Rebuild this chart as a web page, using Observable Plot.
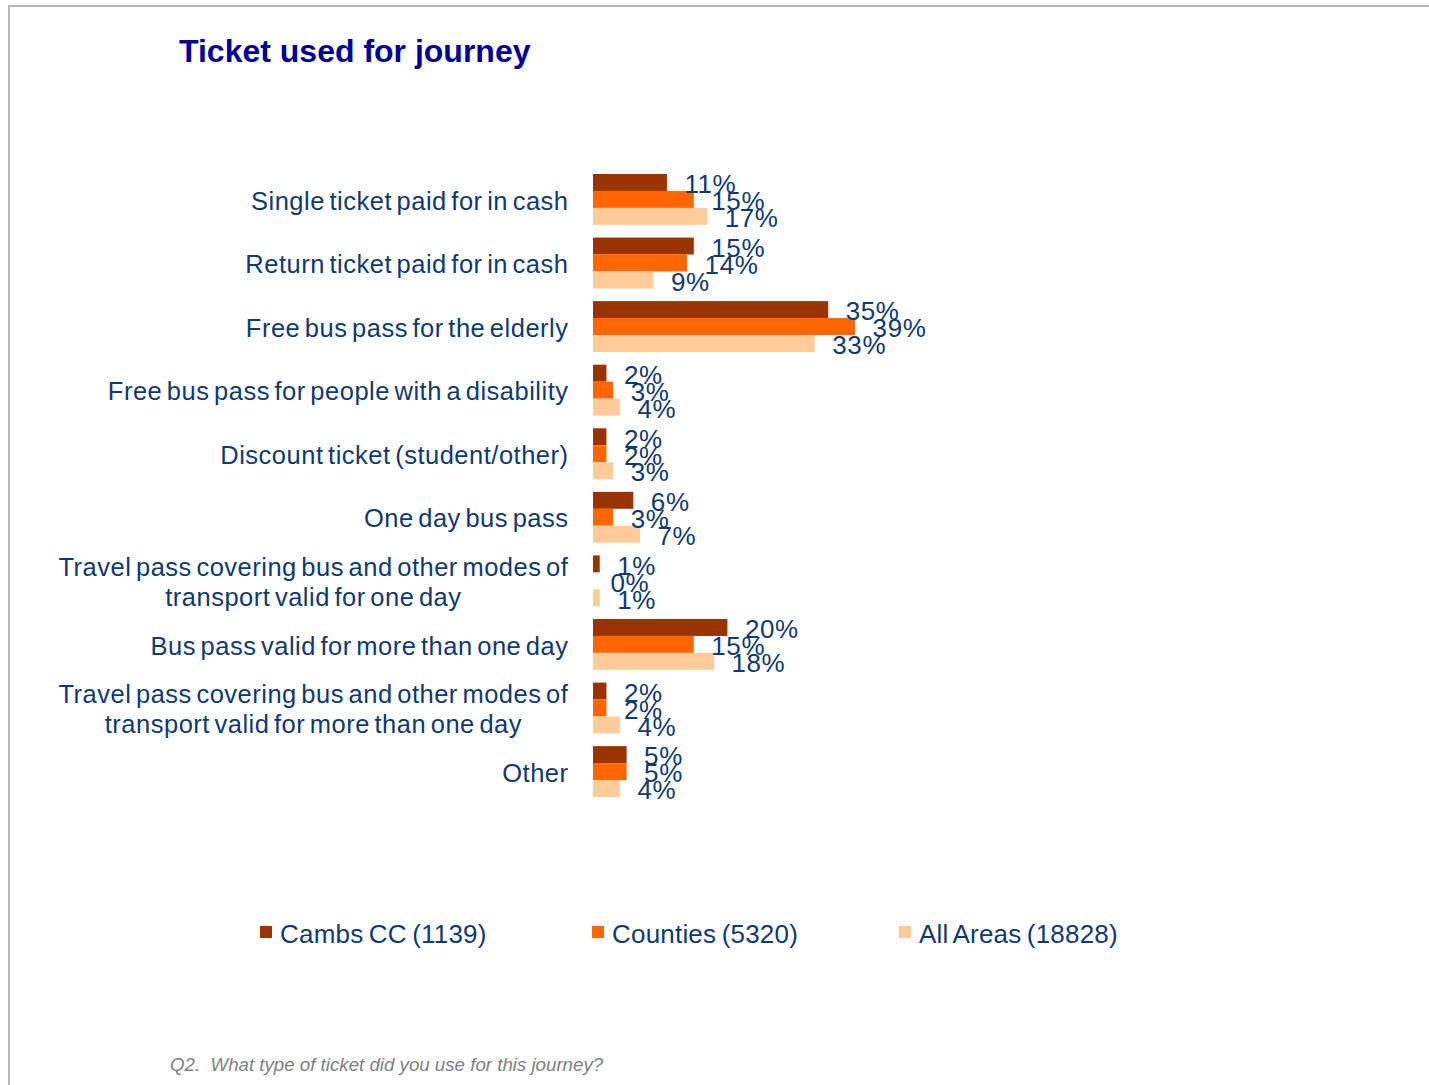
<!DOCTYPE html>
<html>
<head>
<meta charset="utf-8">
<script src="https://cdn.jsdelivr.net/npm/d3@7"></script>
<script src="https://cdn.jsdelivr.net/npm/@observablehq/plot@0.6"></script>
<style>
  html, body { margin: 0; padding: 0; background: #fff; }
  body { width: 1429px; height: 1085px; position: relative; overflow: hidden;
         font-family: "Liberation Sans", Arial, sans-serif; }
  #frame { position: absolute; left: 8px; top: 5px; width: 1440px; height: 1100px;
           border-left: 2px solid #b7b7b7; border-top: 2px solid #b7b7b7; }
  #title { position: absolute; left: 179px; top: 35px; font-size: 32px; font-weight: bold;
           color: #000099; line-height: 32px; white-space: nowrap; }
  #chart { position: absolute; left: 0; top: 141px; }
  #chart svg g[aria-label="fy-axis tick label"] text { letter-spacing: 0.5px; word-spacing: -3px; }
  #chart svg g[aria-label="text"] text { letter-spacing: 0.6px; }
  .leg { position: absolute; top: 919px; font-size: 26px; color: #103a6e; white-space: nowrap;
         line-height: 30px; word-spacing: -2px; letter-spacing: 0.2px; }
  .sw { position: absolute; top: 926px; width: 12px; height: 12px; }
  #note { position: absolute; left: 170px; top: 1054px; font-size: 18.7px; font-style: italic;
          color: #808080; white-space: pre; }
</style>
</head>
<body>
<div id="frame"></div>
<div id="title">Ticket used for journey</div>
<div id="chart"></div>
<div id="legend"></div>
<div id="note">Q2.  What type of ticket did you use for this journey?</div>
<script>
const categories = [
  "Single ticket paid for in cash",
  "Return ticket paid for in cash",
  "Free bus pass for the elderly",
  "Free bus pass for people with a disability",
  "Discount ticket (student/other)",
  "One day bus pass",
  "Travel pass covering bus and other modes of\ntransport valid for one day",
  "Bus pass valid for more than one day",
  "Travel pass covering bus and other modes of\ntransport valid for more than one day",
  "Other"
];
const seriesNames = ["Cambs CC (1139)", "Counties (5320)", "All Areas (18828)"];
const seriesColors = ["#993300", "#FF6600", "#FFCC99"];
const cambsCC  = [11, 15, 35, 2, 2, 6, 1, 20, 2, 5];
const counties = [15, 14, 39, 3, 2, 3, 0, 15, 2, 5];
const allAreas = [17, 9, 33, 4, 3, 7, 1, 18, 4, 4];

const seriesValues = [cambsCC, counties, allAreas];
const rows = [];
categories.forEach((c, i) => {
  seriesNames.forEach((s, j) => rows.push({cat: c, series: s, value: seriesValues[j][i]}));
});

const labelColor = "#103a6e";

const chart = Plot.plot({
  width: 1429,
  height: 676,
  marginLeft: 593,
  marginRight: 164,
  marginTop: 33,
  marginBottom: 20,
  style: {fontFamily: "'Liberation Sans', Arial, sans-serif", fontSize: "25.5px", color: labelColor, background: "transparent"},
  x: {domain: [0, 100], axis: null},
  y: {domain: seriesNames, axis: null, padding: 0, round: false},
  fy: {domain: categories, paddingInner: 0.2, paddingOuter: 0, round: false, label: null},
  color: {domain: seriesNames, range: seriesColors},
  facet: {data: rows, y: "cat", marginLeft: 0, marginRight: 0, marginTop: 0, marginBottom: 0},
  marks: [
    Plot.barX(rows, {x: "value", y: "series", fill: "series"}),
    Plot.text(rows, {x: "value", y: "series", text: d => d.value + "%", textAnchor: "start",
                     dx: 17, dy: 2, fill: labelColor, fontSize: 26}),
    Plot.axisFy({anchor: "left", tickSize: 0, tickPadding: 25, label: null, fontSize: 25.5,
                 lineHeight: 1.18, fill: labelColor})
  ]
});
document.getElementById("chart").appendChild(chart);

// center the lines of multi-line category labels within their block (right-aligned block)
chart.querySelectorAll('g[aria-label="fy-axis tick label"] text').forEach(t => {
  const tspans = t.querySelectorAll("tspan");
  if (tspans.length > 1) {
    const w = t.getBBox().width;
    t.setAttribute("text-anchor", "middle");
    tspans.forEach(ts => ts.setAttribute("x", -w / 2));
  }
});

// legend
const legendX = [260, 592, 899];
const legend = document.getElementById("legend");
seriesNames.forEach((s, i) => {
  const sw = document.createElement("div");
  sw.className = "sw";
  sw.style.left = legendX[i] + "px";
  sw.style.background = seriesColors[i];
  legend.appendChild(sw);
  const t = document.createElement("div");
  t.className = "leg";
  t.style.left = (legendX[i] + 20) + "px";
  t.textContent = s;
  legend.appendChild(t);
});
</script>
</body>
</html>
